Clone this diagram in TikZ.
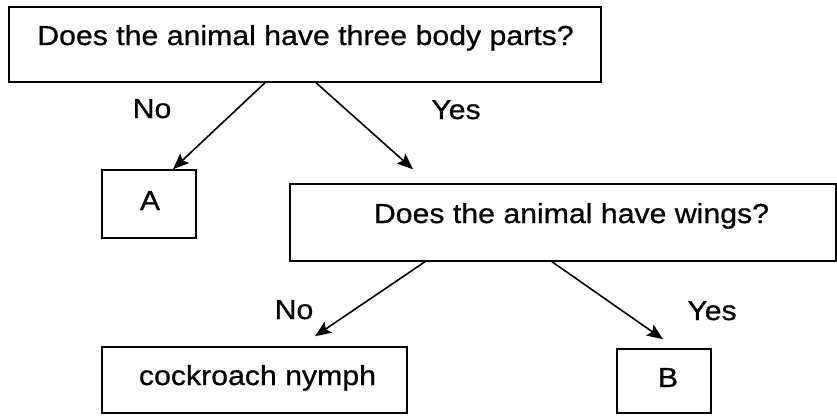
\documentclass[tikz,border=0pt]{standalone}
\usepackage{fontspec}
\setmainfont[FakeStretch=1.1,FakeBold=0.7]{Liberation Sans}
\usetikzlibrary{arrows.meta}
\begin{document}
\begin{tikzpicture}[x=1pt,y=-1pt,
  box/.style={draw=black,line width=1.5pt,inner sep=0pt},
  txt/.style={inner sep=0pt,anchor=base,font=\fontsize{27.5}{30}\selectfont},
  arr/.style={line width=1.6pt,-{Stealth[length=16pt,width=13pt,inset=3pt]}}]
\useasboundingbox (0,0) rectangle (837,415);
% boxes
\node[box,minimum width=592pt,minimum height=75pt] (q1) at (305,44.5) {};
\node[box,minimum width=94pt,minimum height=68pt] (A) at (149,204) {};
\node[box,minimum width=546pt,minimum height=77pt] (q2) at (563,222.5) {};
\node[box,minimum width=305pt,minimum height=66pt] (c) at (254.5,380) {};
\node[box,minimum width=94pt,minimum height=64pt] (B) at (664,381) {};
% texts
\node[txt] (q1t) at (305.5,45) {Does the animal have three body parts?};
\node[txt] (At) at (150,210) {A};
\node[txt] (q2t) at (571.5,223) {Does the animal have wings?};
\node[txt] (ct) at (257.5,385) {cockroach nymph};
\node[txt] (Bt) at (668,387) {B};
% labels
\node[txt] (l1) at (152,118) {No};
\node[txt] (l2) at (456,119) {Yes};
\node[txt] (l3) at (294,319) {No};
\node[txt] (l4) at (712,320) {Yes};
% arrows
\draw[arr] ([xshift=-40pt]q1.south) -- ([xshift=24pt]A.north);
\draw[arr] ([xshift=11pt]q1.south) -- ([xshift=-150pt,yshift=14pt]q2.north);
\draw[arr] ([xshift=-138pt]q2.south) -- ([xshift=60.5pt,yshift=10pt]c.north);
\draw[arr] ([xshift=-11pt]q2.south) -- ([xshift=-1pt,yshift=9pt]B.north);
\end{tikzpicture}
\end{document}
